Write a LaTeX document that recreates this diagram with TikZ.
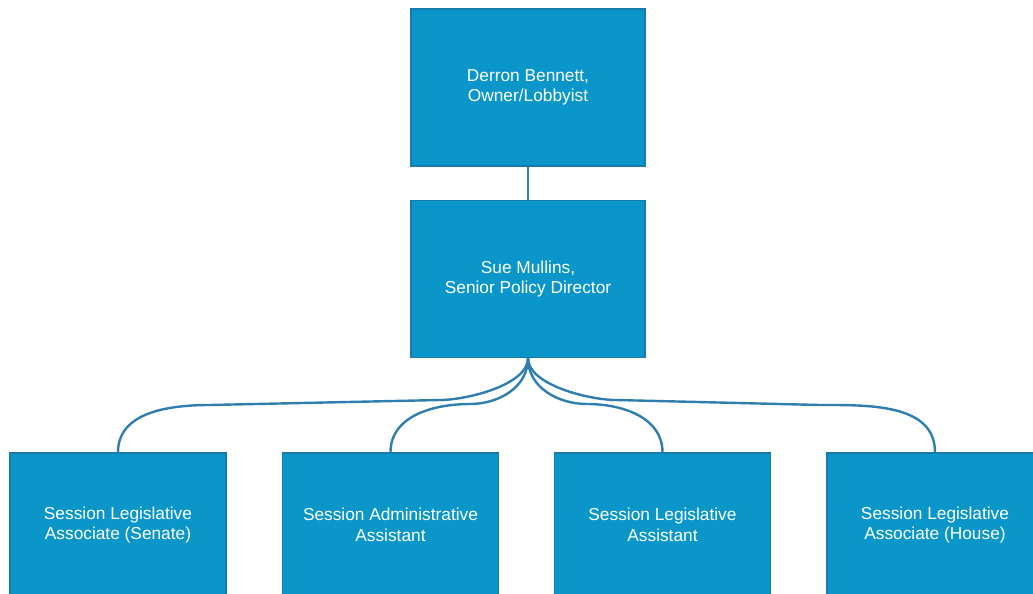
\documentclass[tikz,border=0pt]{standalone}
\usepackage{fontspec}
\setmainfont{Liberation Sans}
\definecolor{boxfill}{RGB}{11,150,201}
\definecolor{boxline}{RGB}{22,122,172}
\definecolor{edgecol}{RGB}{46,126,176}
\begin{document}
\begin{tikzpicture}[x=1pt,y=1pt,
  orgbox/.style={draw=boxline,fill=boxfill,line width=1.5pt,text=white,align=center,
    font=\fontsize{17.3}{20.5}\selectfont,inner sep=0pt},
  topbox/.style={orgbox,minimum width=234pt,minimum height=157pt},
  childbox/.style={orgbox,minimum width=216pt,minimum height=144pt},
  link/.style={draw=edgecol,line width=2.4pt}]
\useasboundingbox (0,0) rectangle (1033,-594);
\node[topbox] (top) at (528,-87.5) {Derron Bennett,\\Owner/Lobbyist};
\node[topbox] (sue) at (528,-279) {Sue Mullins,\\Senior Policy Director};
\node[childbox] (c1) at (118,-525) {Session Legislative\\Associate (Senate)};
\node[childbox] (c2) at (390.5,-525) {Session Administrative\\Assistant};
\node[childbox] (c3) at (662.5,-525) {Session Legislative\\Assistant};
\node[childbox] (c4) at (935,-525) {Session Legislative\\Associate (House)};
\draw[link] (top.south) -- (sue.north);
\draw[link] (sue.south) to[out=-90,in=0,looseness=0.7] (440,-400) -- (210,-405) to[out=180,in=90] (c1.north);
\draw[link] (sue.south) to[out=-90,in=0] (470,-404) to[out=180,in=90] (c2.north);
\draw[link] (sue.south) to[out=-90,in=180] (587,-404) to[out=0,in=90] (c3.north);
\draw[link] (sue.south) to[out=-90,in=180,looseness=0.7] (616,-400) -- (820,-405) to[out=0,in=90] (c4.north);
\end{tikzpicture}
\end{document}
